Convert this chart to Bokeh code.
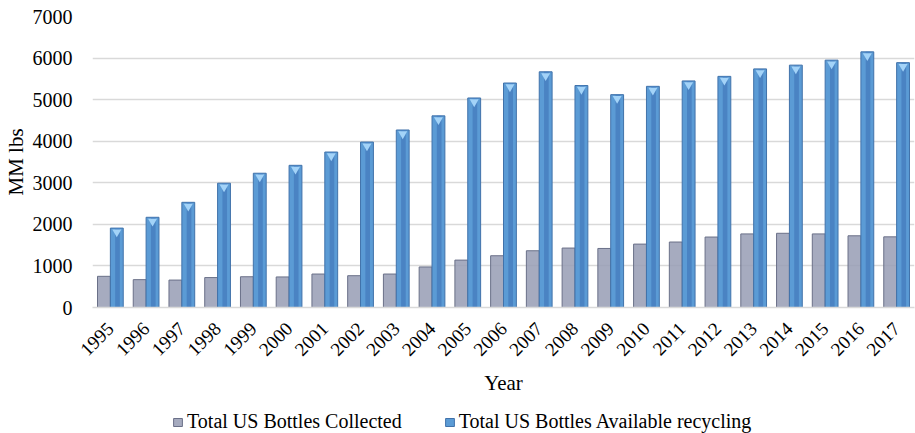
import math

from bokeh.embed import file_html
from bokeh.layouts import column
from bokeh.models import FactorRange, Legend, LegendItem, Range1d, SingleIntervalTicker
from bokeh.plotting import figure
from bokeh.resources import INLINE
from bokeh.transform import dodge

# PET bottle volumes, millions of pounds
years = [str(y) for y in range(1995, 2018)]
collected = [750, 670, 660, 720, 740, 735, 805, 765, 805, 975, 1140, 1245,
             1365, 1430, 1420, 1525, 1575, 1695, 1770, 1785, 1770, 1725, 1700]
available = [1910, 2170, 2530, 2990, 3230, 3420, 3740, 3980, 4270, 4610, 5040,
             5400, 5670, 5340, 5120, 5320, 5450, 5560, 5740, 5830, 5950, 6150, 5890]
series_labels = ["Total US Bottles Collected", "Total US Bottles Available recycling"]

# small bevel marker sits just under the top of each blue bar
bevel_y = [v - 95 for v in available]

FONT = "Liberation Serif"
GRAY_FILL = "#979cb4"
GRAY_LINE = "#6a7088"
BLUE_FILL = "#5b9bd5"
BLUE_DARK = "#4a83c3"
BLUE_LINE = "#4172aa"

source = dict(year=years, collected=collected, available=available, bevel=bevel_y)

p = figure(
    width=915, height=403,
    x_range=FactorRange(*years, range_padding=0),
    y_range=Range1d(0, 7000),
    output_backend="svg", toolbar_location=None,
    min_border_left=92, min_border_right=1, min_border_top=16, min_border_bottom=96,
)
p.outline_line_color = None

gray_style = dict(fill_color=GRAY_FILL, fill_alpha=0.85, line_color=GRAY_LINE, line_width=1)
blue_style = dict(fill_color=BLUE_FILL, line_color=BLUE_LINE, line_width=1)

p.vbar(x=dodge("year", -0.18, range=p.x_range), top="collected", width=0.36,
       source=source, **gray_style)
p.vbar(x=dodge("year", 0.18, range=p.x_range), top="available", width=0.36,
       source=source, **blue_style)
p.vbar(x=dodge("year", 0.2, range=p.x_range), top="available", width=0.13,
       source=source, fill_color=BLUE_DARK, line_color=None)
p.scatter(x=dodge("year", 0.18, range=p.x_range), y="bevel", source=source,
          marker="inverted_triangle", size=9, fill_color="#a3d3f8", line_color=None)

# axes
p.yaxis.ticker = SingleIntervalTicker(interval=1000)
p.yaxis.axis_label = "MM lbs"
p.xaxis.axis_label = "Year"
for ax in (p.xaxis, p.yaxis):
    ax.axis_label_text_font = FONT
    ax.axis_label_text_font_style = "normal"
    ax.axis_label_text_font_size = "21px"
    ax.axis_label_text_color = "#000000"
    ax.major_label_text_font = FONT
    ax.major_label_text_color = "#000000"
    ax.major_tick_line_color = None
    ax.minor_tick_line_color = None
p.yaxis.axis_line_color = None
p.yaxis.major_label_text_font_size = "20px"
p.yaxis.major_label_standoff = 14
p.yaxis.axis_label_standoff = 2
p.xaxis.axis_line_color = "#d9d9d9"
p.xaxis.axis_line_width = 1.5
p.xaxis.major_label_text_font_size = "19px"
p.xaxis.major_label_orientation = math.pi / 4
p.xaxis.major_label_standoff = 12
p.xaxis.axis_label_standoff = 6

p.xgrid.grid_line_color = None
p.ygrid.grid_line_color = "#d9d9d9"
p.ygrid.grid_line_width = 1.5

# legend strip under the chart; its key bars sit outside the strip's visible range.
# The column aligns this strip's frame with the chart frame (left edge at 92px).
leg_fig = figure(
    width=915, height=30, x_range=Range1d(0, 1), y_range=Range1d(0, 1),
    output_backend="svg", toolbar_location=None,
    x_axis_location=None, y_axis_location=None,
    min_border=0, outline_line_color=None,
)
leg_fig.grid.visible = False
key_col = leg_fig.vbar(x=[-5], top=[-5], bottom=[-6], width=0.1, **gray_style)
key_av = leg_fig.vbar(x=[-5], top=[-5], bottom=[-6], width=0.1, **blue_style)
legend = Legend(
    items=[LegendItem(label=series_labels[0], renderers=[key_col]),
           LegendItem(label=series_labels[1], renderers=[key_av])],
    orientation="horizontal", location=(80, 0),
    glyph_width=11, glyph_height=10, label_standoff=4, spacing=42,
    padding=0, margin=0, border_line_color=None, background_fill_alpha=0,
    label_text_font=FONT, label_text_font_size="20px", label_text_color="#000000",
)
leg_fig.add_layout(legend, "center")

layout = column(p, leg_fig, spacing=0)
open("out.html", "w").write(file_html(layout, INLINE))
